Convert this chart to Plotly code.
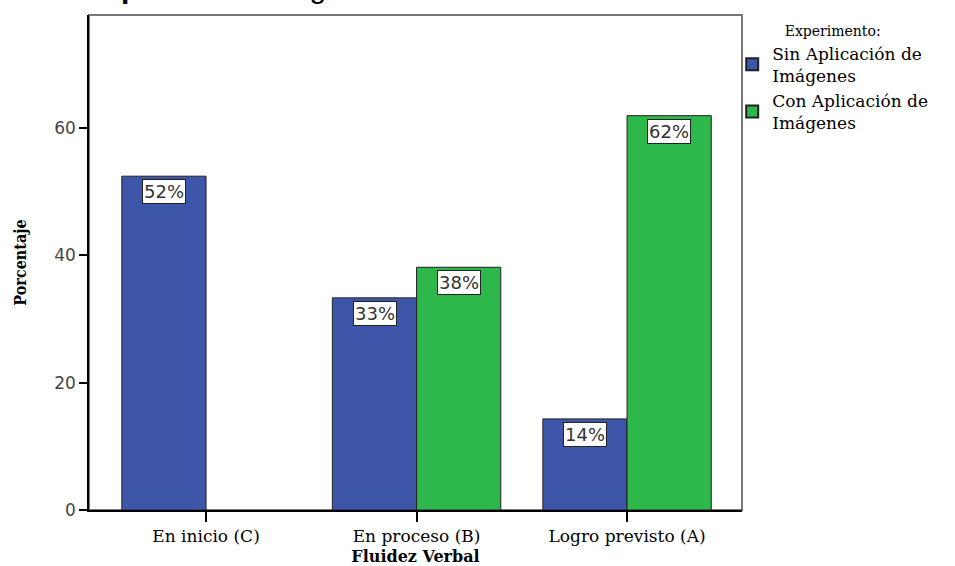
import plotly.graph_objects as go

categories = ["En inicio (C)", "En proceso (B)", "Logro previsto (A)"]
series_names = ["Sin Aplicación de<br>Imágenes", "Con Aplicación de<br>Imágenes"]
sin_values = [52.4, 33.3, 14.3]
con_values = [None, 38.1, 61.9]
sin_labels = ["52%", "33%", "14%"]
con_labels = ["", "38%", "62%"]
y_ticks = [0, 20, 40, 60]

BLUE = "#3D56A9"
GREEN = "#2EB84B"
SERIF = "DejaVu Serif, serif"
SANS = "DejaVu Sans, Verdana, sans-serif"

fig = go.Figure()
for name, vals, col in [(series_names[0], sin_values, BLUE), (series_names[1], con_values, GREEN)]:
    fig.add_trace(go.Bar(
        x=categories, y=vals, name=name,
        marker=dict(color=col, line=dict(color="#222222", width=1)),
    ))

# value labels: white boxes at top inside bar
for labels, vals, shift in [(sin_labels, sin_values, -42), (con_labels, con_values, 42)]:
    for c, v, t in zip(categories, vals, labels):
        if not t:
            continue
        fig.add_annotation(
            x=c, y=v, xref="x", yref="y", text=t, showarrow=False,
            xshift=shift, yshift=-3, yanchor="top",
            bgcolor="white", bordercolor="#222222", borderwidth=1, borderpad=1,
            font=dict(family=SANS, size=18, color="#333333"),
        )

# partially clipped source text at top
fig.add_annotation(
    x=(420 - 89) / (742 - 89), y=1, xref="paper", yref="paper", xanchor="right", yanchor="bottom",
    yshift=9, text="Elaborado <b>por</b> las investigadoras", showarrow=False,
    font=dict(family="Liberation Sans, Arial, sans-serif", size=30, color="black"),
)

# frame (gray top/right)
fig.add_shape(type="rect", xref="paper", yref="paper", x0=0, y0=0, x1=1, y1=1,
              line=dict(color="#777777", width=2), layer="below")

fig.update_layout(
    width=955, height=566,
    margin=dict(l=89, r=213, t=15, b=56, autoexpand=False),
    paper_bgcolor="white", plot_bgcolor="white",
    barmode="group", bargap=0.2, bargroupgap=0,
    font=dict(family=SERIF, size=16, color="black"),
    legend=dict(
        x=0.985, y=0.995, xanchor="left", yanchor="top",
        title=dict(text="Experimento:", side="top center",
                   font=dict(family=SERIF, size=14, color="black")),
        font=dict(family=SERIF, size=17, color="black"),
        tracegroupgap=0, itemsizing="constant", itemwidth=30,
        bgcolor="rgba(0,0,0,0)",
    ),
    showlegend=True,
)
fig.update_xaxes(
    range=[-0.556, 2.546], showline=True, linecolor="black", linewidth=1.5,
    ticks="outside", ticklen=10, tickcolor="black", tickwidth=1.5,
    tickfont=dict(family=SERIF, size=17, color="black"),
    showgrid=False, zeroline=False, automargin=False,
    title=dict(text="<b>Fluidez Verbal</b>", font=dict(family=SERIF, size=16, color="black"), standoff=6),
)
fig.update_yaxes(
    range=[0, 77.7], showline=True, linecolor="black", linewidth=1.5,
    ticks="outside", ticklen=8, tickcolor="black", tickwidth=1.5,
    tickvals=y_ticks, tickfont=dict(family=SANS, size=17, color="#444444"),
    showgrid=False, zeroline=False, automargin=False,
    title=dict(text="<b>Porcentaje</b>", font=dict(family="DejaVu Serif Condensed, Liberation Serif, serif", size=16, color="black"), standoff=24),
)

fig.write_html("out.html", config={"displayModeBar": False},
               post_script="document.body.style.margin='0';")
